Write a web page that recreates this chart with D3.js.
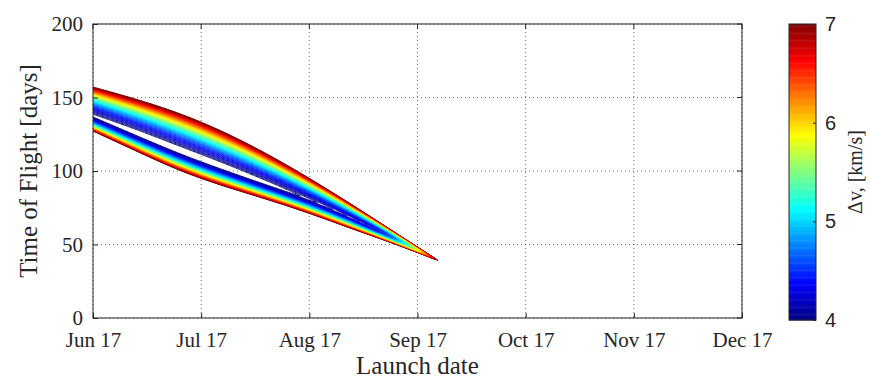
<!DOCTYPE html>
<html>
<head>
<meta charset="utf-8">
<script src="https://cdn.jsdelivr.net/npm/d3@7"></script>
<style>
  body { margin: 0; background: #fff; }
  text { fill: #262626; }
</style>
</head>
<body>
<svg id="chart" width="870" height="381"></svg>
<script>
// --- axes (launch date in days after the first tick) ---
const xTickDays = [0, 30, 60, 90, 120, 150, 180];
const xTickLabels = ["Jun 17", "Jul 17", "Aug 17", "Sep 17", "Oct 17", "Nov 17", "Dec 17"];
const yTicks = [0, 50, 100, 150, 200];
const cbTicks = [4, 5, 6, 7];

// --- porkchop valley, every 12 launch days ---
const launchDays = [0, 12, 24, 36, 48, 60, 72, 84, 96];
const tofUpper   = [157.1, 149.0, 139.5, 127.2, 112.2, 95.2, 76.9, 57.8, 38.8]; // outer rim above valley
const tofLower   = [127.2, 113.6, 100.0, 89.8, 81.0, 71.4, 60.5, 50.3, 38.8];   // outer rim below valley
const tofValley  = [137.4, 125.6, 113.4, 102.5, 91.6, 80.9, 67.9, 54.0, 38.8];  // valley floor
const dvValley   = [3.95, 3.86, 3.84, 3.84, 3.9, 4.02, 4.15, 4.35, 7.0];        // km/s at floor
const dvRim = 7.15;                                                             // km/s at outer rim
const dvLevels = d3.range(4, 7.1501, 0.05);

const grid = { left: 93, right: 742, top: 24, bottom: 318 };
const cb = { left: 789, right: 816, top: 24, bottom: 320 };

const svg = d3.select("#chart");

const x = d3.scaleLinear().domain([0, 180]).range([grid.left, grid.right]);
const y = d3.scaleLinear().domain([0, 200]).range([grid.bottom, grid.top]);

// matlab jet
const jet = d3.scaleLinear()
    .domain([0, 0.125, 0.375, 0.625, 0.875, 1])
    .range(["#000080", "#0000ff", "#00ffff", "#ffff00", "#ff0000", "#800000"])
    .clamp(true);
const color = v => jet((v - 4) / 3);

// --- build the dv field on a grid ---
const tipDay = launchDays[launchDays.length - 1];
const pU = d3.interpolateBasis(tofUpper);
const pL = d3.interpolateBasis(tofLower);
const pC = d3.interpolateBasis(tofValley);
const pM = d3.interpolateBasis(dvValley);

function dv(day, tof) {
    if (day >= tipDay) return 9;
    const t = Math.max(0, day / tipDay);
    const c = pC(t), hi = pU(t), lo = pL(t), m = Math.min(pM(t), dvRim);
    const s = tof >= c ? (tof - c) / (hi - c) : (c - tof) / (c - lo);
    return m + (dvRim - m) * Math.pow(s, 1.5);
}

const step = 0.35, day0 = 0, tof0 = 25;
const nx = Math.round(100 / step) + 1, ny = Math.round(145 / step) + 1;
const values = new Float64Array(nx * ny);
for (let j = 0; j < ny; j++) {
    for (let i = 0; i < nx; i++) {
        // negated so every level is a closed ring around the valley
        values[j * nx + i] = -dv(day0 + i * step, tof0 + j * step);
    }
}

const contours = d3.contours().size([nx, ny])
    .thresholds(dvLevels.map(v => -v))(values);
const proj = d3.geoTransform({
    point(gx, gy) {
        this.stream.point(x(day0 + (gx - 0.5) * step), y(tof0 + (gy - 0.5) * step));
    }
});
const path = d3.geoPath(proj);

svg.append("clipPath").attr("id", "plotClip")
    .append("rect")
    .attr("x", grid.left).attr("y", grid.top)
    .attr("width", grid.right - grid.left).attr("height", grid.bottom - grid.top);

// --- grid lines ---
const gGrid = svg.append("g").attr("class", "_grid");
gGrid.selectAll("line.vx").data(xTickDays).enter().append("line")
    .attr("x1", d => x(d)).attr("x2", d => x(d))
    .attr("y1", grid.top).attr("y2", grid.bottom)
    .attr("stroke", "#333").attr("stroke-opacity", 0.7)
    .attr("stroke-dasharray", "1,3");
gGrid.selectAll("line.hy").data(yTicks).enter().append("line")
    .attr("y1", d => y(d)).attr("y2", d => y(d))
    .attr("x1", grid.left).attr("x2", grid.right)
    .attr("stroke", "#333").attr("stroke-opacity", 0.7)
    .attr("stroke-dasharray", "1,3");

// --- contour lines ---
svg.append("g")
    .attr("clip-path", "url(#plotClip)")
    .selectAll("path")
    .data(contours)
    .enter().append("path")
    .attr("d", path)
    .attr("fill", "none")
    .attr("stroke", d => color(-d.value))
    .attr("stroke-width", 1);

// --- axes ---
const xAxis = d3.axisBottom(x).tickValues(xTickDays)
    .tickSize(-5).tickPadding(12)
    .tickFormat((d, i) => xTickLabels[i]);
const yAxis = d3.axisLeft(y).tickValues(yTicks)
    .tickSize(-5).tickPadding(10);

const gx = svg.append("g").attr("transform", `translate(0,${grid.bottom})`).call(xAxis);
const gy = svg.append("g").attr("transform", `translate(${grid.left},0)`).call(yAxis);
[gx, gy].forEach(g => {
    g.select(".domain").remove();
    g.selectAll(".tick line").attr("stroke", "#262626");
    g.selectAll(".tick text")
        .attr("font-family", "'Liberation Serif', serif")
        .attr("font-size", 21)
        .attr("fill", "#262626");
});
gx.selectAll(".tick text").attr("dy", "0.8em");

// top / right tick marks and box
svg.append("g").selectAll("line").data(xTickDays).enter().append("line")
    .attr("x1", d => x(d)).attr("x2", d => x(d))
    .attr("y1", grid.top).attr("y2", grid.top + 5)
    .attr("stroke", "#262626");
svg.append("g").selectAll("line").data(yTicks).enter().append("line")
    .attr("y1", d => y(d)).attr("y2", d => y(d))
    .attr("x1", grid.right).attr("x2", grid.right - 5)
    .attr("stroke", "#262626");
svg.append("rect")
    .attr("x", grid.left).attr("y", grid.top)
    .attr("width", grid.right - grid.left).attr("height", grid.bottom - grid.top)
    .attr("fill", "none").attr("stroke", "#262626").attr("stroke-width", 1);

// axis titles
svg.append("text")
    .attr("x", (grid.left + grid.right) / 2).attr("y", 374)
    .attr("text-anchor", "middle")
    .attr("font-family", "'Liberation Serif', serif").attr("font-size", 25)
    .text("Launch date");
svg.append("text")
    .attr("transform", `translate(37,${(grid.top + grid.bottom) / 2}) rotate(-90)`)
    .attr("text-anchor", "middle")
    .attr("font-family", "'Liberation Serif', serif").attr("font-size", 25)
    .text("Time of Flight [days]");

// --- colorbar ---
const cbY = d3.scaleLinear().domain([4, 7]).range([cb.bottom, cb.top]);
const cbSteps = d3.range(0, 256).map(k => 4 + 3 * k / 256);
svg.append("g").selectAll("rect").data(cbSteps).enter().append("rect")
    .attr("x", cb.left).attr("width", cb.right - cb.left)
    .attr("y", d => cbY(d + 3 / 256)).attr("height", d => cbY(d) - cbY(d + 3 / 256) + 0.5)
    .attr("fill", d => color(d + 1.5 / 256));
svg.append("rect")
    .attr("x", cb.left).attr("y", cb.top)
    .attr("width", cb.right - cb.left).attr("height", cb.bottom - cb.top)
    .attr("fill", "none").attr("stroke", "#262626");
const cbAxis = d3.axisRight(cbY).tickValues(cbTicks).tickSize(-3).tickPadding(9)
    .tickFormat(d3.format("d"));
const gcb = svg.append("g").attr("transform", `translate(${cb.right},0)`).call(cbAxis);
gcb.select(".domain").remove();
gcb.selectAll(".tick line").attr("stroke", "#262626");
gcb.selectAll(".tick text")
    .attr("font-family", "'Liberation Sans', Arial, sans-serif")
    .attr("font-size", 20).attr("fill", "#262626");

svg.append("text")
    .attr("transform", `translate(862,${(cb.top + cb.bottom) / 2}) rotate(-90)`)
    .attr("text-anchor", "middle")
    .attr("font-family", "'Liberation Serif', serif").attr("font-size", 20)
    .text("Δv, [km/s]");
</script>
</body>
</html>
